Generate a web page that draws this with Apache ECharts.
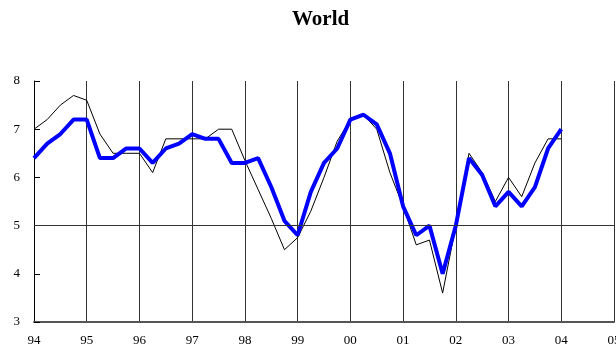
<!DOCTYPE html>
<html>
<head>
<meta charset="utf-8">
<script src="https://cdn.jsdelivr.net/npm/echarts@6/dist/echarts.min.js"></script>
<style>html,body{margin:0;padding:0;background:#fff}#c{width:616px;height:349px}</style>
</head>
<body>
<div id="c"></div>
<script>
var quarters = [
'94Q1','94Q2','94Q3','94Q4','95Q1','95Q2','95Q3','95Q4','96Q1','96Q2','96Q3','96Q4',
'97Q1','97Q2','97Q3','97Q4','98Q1','98Q2','98Q3','98Q4','99Q1','99Q2','99Q3','99Q4',
'00Q1','00Q2','00Q3','00Q4','01Q1','01Q2','01Q3','01Q4','02Q1','02Q2','02Q3','02Q4',
'03Q1','03Q2','03Q3','03Q4','04Q1','04Q2','04Q3','04Q4','05Q1'];
var blueSeries = [
6.4,6.7,6.9,7.2, 7.2,6.4,6.4,6.6, 6.6,6.3,6.6,6.7, 6.9,6.8,6.8,6.3,
6.3,6.4,5.8,5.1, 4.8,5.7,6.3,6.6, 7.2,7.3,7.1,6.5, 5.4,4.8,5.0,4.0,
5.0,6.4,6.05,5.4, 5.7,5.4,5.8,6.6, 7.0];
var blackSeries = [
7.0,7.2,7.5,7.7, 7.6,6.9,6.5,6.5, 6.5,6.1,6.8,6.8, 6.8,6.8,7.0,7.0,
6.35,5.75,5.15,4.5, 4.75,5.3,6.0,6.75, 7.2,7.3,7.0,6.1, 5.4,4.6,4.7,3.6,
5.0,6.5,6.1,5.5, 6.0,5.6,6.3,6.8, 6.8];
var yTicks = [3,4,5,6,7,8];
var refLine = 5;

var chart = echarts.init(document.getElementById('c'));
var serif = '"Liberation Serif","DejaVu Serif",serif';
chart.setOption({
  animation: false,
  title: {
    text: 'World', left: 287, top: 4,
    textStyle: {fontFamily: serif, fontWeight: 'bold', fontSize: 21, color: '#000'}
  },
  grid: {left: 34, right: 2, top: 81, bottom: 27, containLabel: false, outerBoundsMode: 'none'},
  xAxis: {
    type: 'category', data: quarters, boundaryGap: false,
    axisLine: {show: true, lineStyle: {color: '#555', width: 2}},
    axisTick: {show: false},
    axisLabel: {
      interval: function (i) { return i % 4 === 0; },
      formatter: function (v) { return v.slice(0, 2); },
      fontFamily: serif, fontSize: 13, color: '#000', margin: 12
    },
    splitLine: {show: true, interval: function (i) { return i % 4 === 0 && i > 0; },
      lineStyle: {color: '#333', width: 1}}
  },
  yAxis: {
    type: 'value', min: yTicks[0], max: yTicks[yTicks.length - 1], interval: 1,
    axisLine: {show: true, lineStyle: {color: '#000', width: 1}},
    axisTick: {show: true, inside: true, length: 6, lineStyle: {color: '#000'}},
    axisLabel: {fontFamily: serif, fontSize: 13, color: '#000', margin: 14},
    splitLine: {show: false}
  },
  series: [
    {
      type: 'line', data: blackSeries, symbol: 'none', z: 2,
      lineStyle: {color: '#000', width: 1},
      markLine: {
        silent: true, symbol: 'none', label: {show: false},
        lineStyle: {color: '#333', width: 1, type: 'solid'},
        data: [{yAxis: refLine}]
      }
    },
    {
      type: 'line', data: blueSeries, symbol: 'none', z: 3,
      lineStyle: {color: '#0000ff', width: 4}
    }
  ]
});
</script>
</body>
</html>
